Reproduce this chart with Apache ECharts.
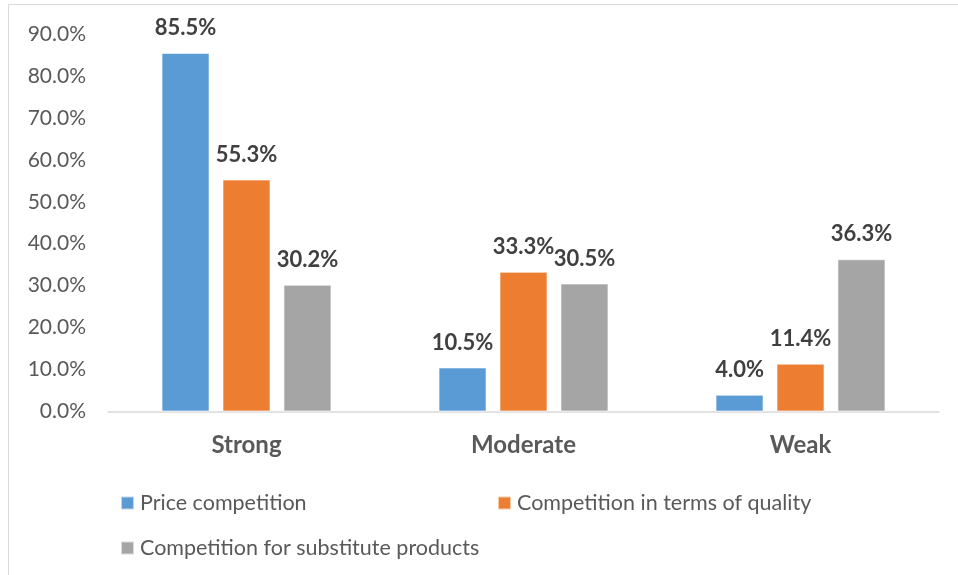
<!DOCTYPE html>
<html>
<head>
<meta charset="utf-8">
<script src="https://cdn.jsdelivr.net/npm/echarts@6/dist/echarts.min.js"></script>
<style>
  html, body { margin: 0; padding: 0; background: #ffffff; }
  #chart { width: 958px; height: 575px; }
</style>
</head>
<body>
<div id="chart"></div>
<script>
// Intensity levels on the category axis
var categories = ['Strong', 'Moderate', 'Weak'];

// Share of respondents (%) per type of competition
var priceCompetition = [85.5, 10.5, 4.0];
var qualityCompetition = [55.3, 33.3, 11.4];
var substituteCompetition = [30.2, 30.5, 36.3];

var seriesNames = [
  'Price competition',
  'Competition in terms of quality',
  'Competition for substitute products'
];

// Value axis range and step
var yMin = 0;
var yMax = 90;
var yStep = 10;

var FONT = 'Lato, "Open Sans", sans-serif';
var TEXT = '#595959';
var COLORS = ['#5B9BD5', '#ED7D31', '#A5A5A5'];

function pct(v) { return Number(v).toFixed(1) + '%'; }

function barSeries(name, values, color) {
  return {
    name: name,
    type: 'bar',
    data: values,
    barWidth: 48,
    barGap: '27%',
    itemStyle: { color: color, borderColor: 'rgba(255,255,255,0.6)', borderWidth: 1 },
    label: {
      show: true,
      position: 'top',
      distance: 14,
      fontFamily: FONT,
      fontSize: 22,
      fontWeight: 'bold',
      color: '#404040',
      formatter: function (p) { return pct(p.value); }
    },
    emphasis: { disabled: true }
  };
}

function legendAt(name, left, top) {
  return {
    data: [name],
    left: left,
    top: top,
    orient: 'horizontal',
    icon: 'rect',
    itemWidth: 13,
    itemHeight: 13,
    itemGap: 0,
    selectedMode: false,
    textStyle: { fontFamily: FONT, fontSize: 21.5, color: TEXT, padding: [0, 0, 0, 1] }
  };
}

var chart = echarts.init(document.getElementById('chart'), null, { renderer: 'canvas' });

chart.setOption({
  animation: false,
  backgroundColor: '#ffffff',
  graphic: [{
    type: 'rect',
    shape: { x: 8.5, y: 4.5, width: 1200, height: 1200 },
    style: { fill: 'none', stroke: '#d9d9d9', lineWidth: 1 },
    silent: true,
    z: -1
  }],
  grid: { left: 108, right: 19, top: 34, bottom: 163.5, containLabel: false },
  legend: [
    legendAt(seriesNames[0], 115, 487),
    legendAt(seriesNames[1], 492, 487),
    legendAt(seriesNames[2], 115, 532)
  ],
  xAxis: {
    type: 'category',
    data: categories,
    axisLine: { show: true, lineStyle: { color: '#d9d9d9', width: 1.5 } },
    axisTick: { show: false },
    axisLabel: {
      margin: 22,
      fontFamily: FONT,
      fontSize: 24,
      fontWeight: 'bold',
      color: TEXT
    },
    splitLine: { show: false }
  },
  yAxis: {
    type: 'value',
    min: yMin,
    max: yMax,
    interval: yStep,
    axisLine: { show: false },
    axisTick: { show: false },
    splitLine: { show: false },
    axisLabel: {
      margin: 22,
      fontFamily: FONT,
      fontSize: 21,
      color: TEXT,
      formatter: function (v) { return pct(v); }
    }
  },
  series: [
    barSeries(seriesNames[0], priceCompetition, COLORS[0]),
    barSeries(seriesNames[1], qualityCompetition, COLORS[1]),
    barSeries(seriesNames[2], substituteCompetition, COLORS[2])
  ]
});
</script>
</body>
</html>
